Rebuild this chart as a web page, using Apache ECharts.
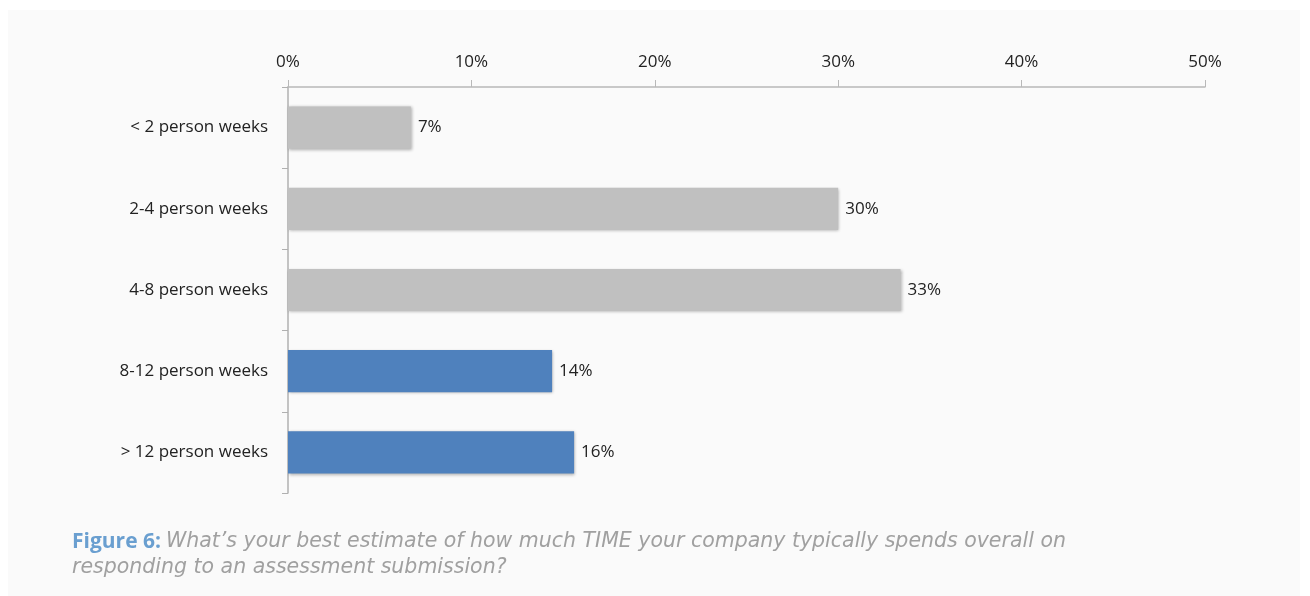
<!DOCTYPE html>
<html>
<head>
<meta charset="utf-8">
<script src="https://cdn.jsdelivr.net/npm/echarts@6/dist/echarts.min.js"></script>
<style>
html,body{margin:0;padding:0;background:#fff;}
#c{width:1310px;height:596px;}
</style>
</head>
<body>
<div id="c"></div>
<script>
var categories = ['< 2 person weeks', '2-4 person weeks', '4-8 person weeks', '8-12 person weeks', '> 12 person weeks'];
var values = [6.7, 30.0, 33.4, 14.4, 15.6];
var barColors = ['#c0c0c0', '#c0c0c0', '#c0c0c0', '#4f81bd', '#4f81bd'];
var tickMin = 0, tickMax = 50, tickStep = 10;

var chart = echarts.init(document.getElementById('c'), null, {renderer: 'canvas'});
var font = '"Open Sans", sans-serif';
var capFont = '"DejaVu Sans", sans-serif';
chart.setOption({
  animation: false,
  backgroundColor: '#ffffff',
  graphic: [{
    type: 'rect', z: -10, silent: true,
    shape: {x: 8, y: 10, width: 1292, height: 586},
    style: {fill: '#fafafa'}
  }],
  title: {
    left: 72, top: 529, padding: 0,
    text: '{a|Figure 6:} {b|What\u2019s your best estimate of how much TIME your company typically spends overall on}\n{b|responding to an assessment submission?}',
    textStyle: {
      rich: {
        a: {fontFamily: '"Open Sans", sans-serif', fontWeight: 'bold', fontSize: 21, color: '#6a9fd0', lineHeight: 26},
        b: {fontFamily: capFont, fontStyle: 'italic', fontWeight: 'normal', fontSize: 20.5, color: '#a0a0a0', lineHeight: 26}
      }
    }
  },
  grid: {left: 288, right: 105, top: 87, bottom: 103, containLabel: false},
  xAxis: {
    type: 'value', position: 'top', min: tickMin, max: tickMax, interval: tickStep,
    axisLine: {show: true, lineStyle: {color: '#b8b8b8', width: 1.5}},
    axisTick: {show: true, length: 7, lineStyle: {color: '#b8b8b8'}},
    splitLine: {show: false},
    axisLabel: {formatter: '{value}%', fontFamily: font, fontSize: 17, color: '#222', margin: 16}
  },
  yAxis: {
    type: 'category', data: categories, inverse: true,
    axisLine: {show: true, lineStyle: {color: '#b0b0b0', width: 1.5}},
    axisTick: {show: true, length: 6, lineStyle: {color: '#b0b0b0'}},
    axisLabel: {fontFamily: font, fontSize: 17, color: '#222', margin: 20}
  },
  series: [{
    type: 'bar',
    data: values.map(function (v, i) { return {value: v, itemStyle: {color: barColors[i]}}; }),
    barWidth: '52%',
    itemStyle: {shadowBlur: 3, shadowOffsetX: 1, shadowOffsetY: 1, shadowColor: 'rgba(0,0,0,0.3)'},
    label: {
      show: true, position: 'right', distance: 7,
      fontFamily: font, fontSize: 17, color: '#222',
      formatter: function (p) { return Math.round(p.value) + '%'; }
    }
  }]
});
</script>
</body>
</html>
